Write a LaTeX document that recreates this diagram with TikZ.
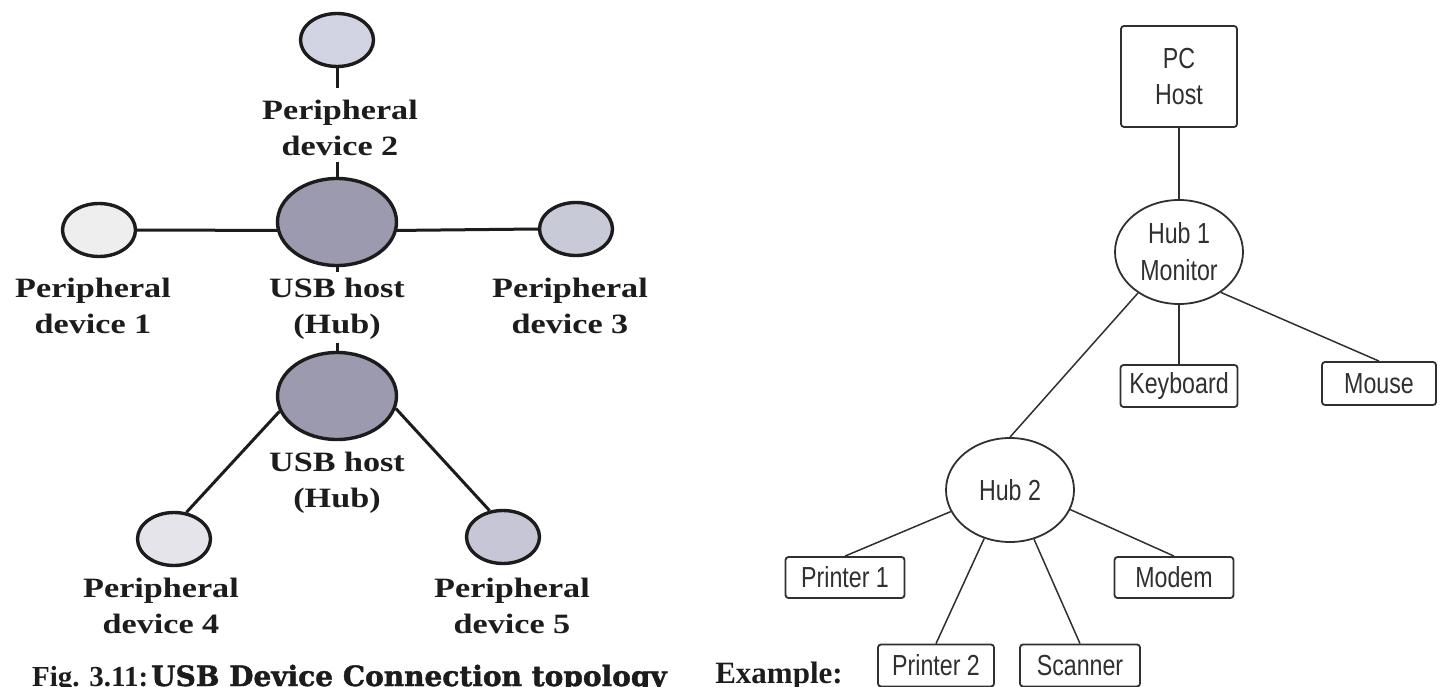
\documentclass[tikz,border=0pt]{standalone}
\usepackage{fontspec}
\setmainfont{Liberation Serif}
\newfontfamily\lblfont[FakeStretch=1.22]{Liberation Serif}
\newfontfamily\boxfont[FakeStretch=0.8]{Liberation Sans}
\newfontfamily\slabfont[FakeStretch=1.0,FakeBold=1.5]{DejaVu Serif}
\usetikzlibrary{shapes.geometric}

\definecolor{inkL}{HTML}{1C1C1C}
\definecolor{inkR}{HTML}{303030}
\definecolor{hubfill}{HTML}{9C9AAF}
\definecolor{pafill}{HTML}{EEEEEF}
\definecolor{pbfill}{HTML}{D2D3E3}
\definecolor{pcfill}{HTML}{C9CAD8}
\definecolor{pdfill}{HTML}{E4E4EA}
\definecolor{pefill}{HTML}{C6C6D6}

\begin{document}
\begin{tikzpicture}[x=1pt,y=-1pt,
  dev/.style={ellipse, draw=inkL, line width=3.4pt, minimum width=73pt,
    minimum height=53pt, inner sep=0pt},
  hubL/.style={ellipse, draw=inkL, line width=3.4pt, fill=hubfill,
    minimum width=119pt, minimum height=87pt, inner sep=0pt},
  lbl/.style={anchor=north, align=center, inner sep=0pt, text=inkL,
    font=\lblfont\bfseries\fontsize{28}{36}\selectfont},
  wire/.style={line width=3pt, draw=inkL},
  rbox/.style={draw=inkR, line width=1.8pt, rounded corners=3pt, inner sep=0pt,
    align=center, text=inkR, font=\boxfont\fontsize{29}{36.5}\selectfont},
  hubR/.style={ellipse, draw=inkR, line width=1.8pt, inner sep=0pt,
    minimum width=128pt, minimum height=104pt, align=center, text=inkR,
    font=\boxfont\fontsize{29}{37}\selectfont},
  link/.style={draw=inkR, line width=1.5pt}]

\useasboundingbox (0,0) rectangle (1442,687);
\fill[white] (0,0) rectangle (1442,687);
\clip (0,0) rectangle (1442,687);

% ---------- left: USB host/hub topology ----------
\node[dev, fill=pbfill] (p2) at (337,40) {};
\node[hubL] (hub1) at (337,222) {};
\node[dev, fill=pafill] (p1) at (99,230) {};
\node[dev, fill=pcfill] (p3) at (576,229) {};
\node[hubL] (hub2) at (337,396) {};
\node[dev, fill=pdfill] (p4) at (174,539) {};
\node[dev, fill=pefill] (p5) at (503,537) {};

\node[lbl] (l2) at (340,100) {Peripheral\\device 2};
\node[lbl] (l1) at (93,278) {Peripheral\\device 1};
\node[lbl] (lh1) at (337,278) {USB host\\(Hub)};
\node[lbl] (l3) at (570,278) {Peripheral\\device 3};
\node[lbl] (lh2) at (337,452) {USB host\\(Hub)};
\node[lbl] (l4) at (161,578) {Peripheral\\device 4};
\node[lbl] (l5) at (512,578) {Peripheral\\device 5};

\coordinate (g2a) at (337,88);
\coordinate (g2b) at (337,162);
\coordinate (t1) at (337,272);
\coordinate (t2) at (337,343);

\draw[wire] (p2.south) -- (g2a);
\draw[wire] (g2b) -- (hub1.north);
\draw[wire] (p1.east) -- (hub1.188);
\draw[wire] (hub1.352) -- (p3.west);
\draw[wire] (hub1.south) -- (t1);
\draw[wire] (t2) -- (hub2.north);
\draw[wire] (hub2.195) -- (p4.65);
\draw[wire] (hub2.348) -- (p5.117);

\node[anchor=base west, inner sep=0pt, text=inkL] (cap) at (32,686)
  {\bfseries\fontsize{29}{34}\selectfont Fig. 3.11:\hspace{3pt}{\slabfont\bfseries\fontsize{28}{30}\selectfont USB Device Connection topology}};

% ---------- right: example tree ----------
\node[rbox, minimum width=116pt, minimum height=101pt] (pc) at (1179,76.5) {PC\\Host};
\node[hubR] (h1) at (1179,252) {Hub 1\\Monitor};
\node[rbox, minimum width=117pt, minimum height=42pt] (kb) at (1179,386) {Keyboard};
\node[rbox, minimum width=114pt, minimum height=43pt] (mouse) at (1379,383.5) {Mouse};
\node[hubR] (h2) at (1010,490) {Hub 2};
\node[rbox, minimum width=119pt, minimum height=41pt] (pr1) at (845,577.5) {Printer 1};
\node[rbox, minimum width=119pt, minimum height=41pt] (modem) at (1174,577.5) {Modem};
\node[rbox, minimum width=116pt, minimum height=42pt] (pr2) at (936,665.5) {Printer 2};
\node[rbox, minimum width=120pt, minimum height=42pt] (scan) at (1080,665.5) {Scanner};

\draw[link] (pc.south) -- (h1.north);
\draw[link] (h1.south) -- (kb.north);
\draw[link] (h1.225) -- (h2.north);
\draw[link] (h1.316) -- (mouse.north);
\draw[link] (h2.200) -- (pr1.north);
\draw[link] (h2.242) -- (pr2.north);
\draw[link] (h2.296) -- (scan.north);
\draw[link] (h2.342) -- (modem.north);

\node[anchor=base, inner sep=0pt, text=inkL, font=\bfseries\fontsize{31}{36}\selectfont] (ex) at (779,683) {Example:};
\end{tikzpicture}
\end{document}
